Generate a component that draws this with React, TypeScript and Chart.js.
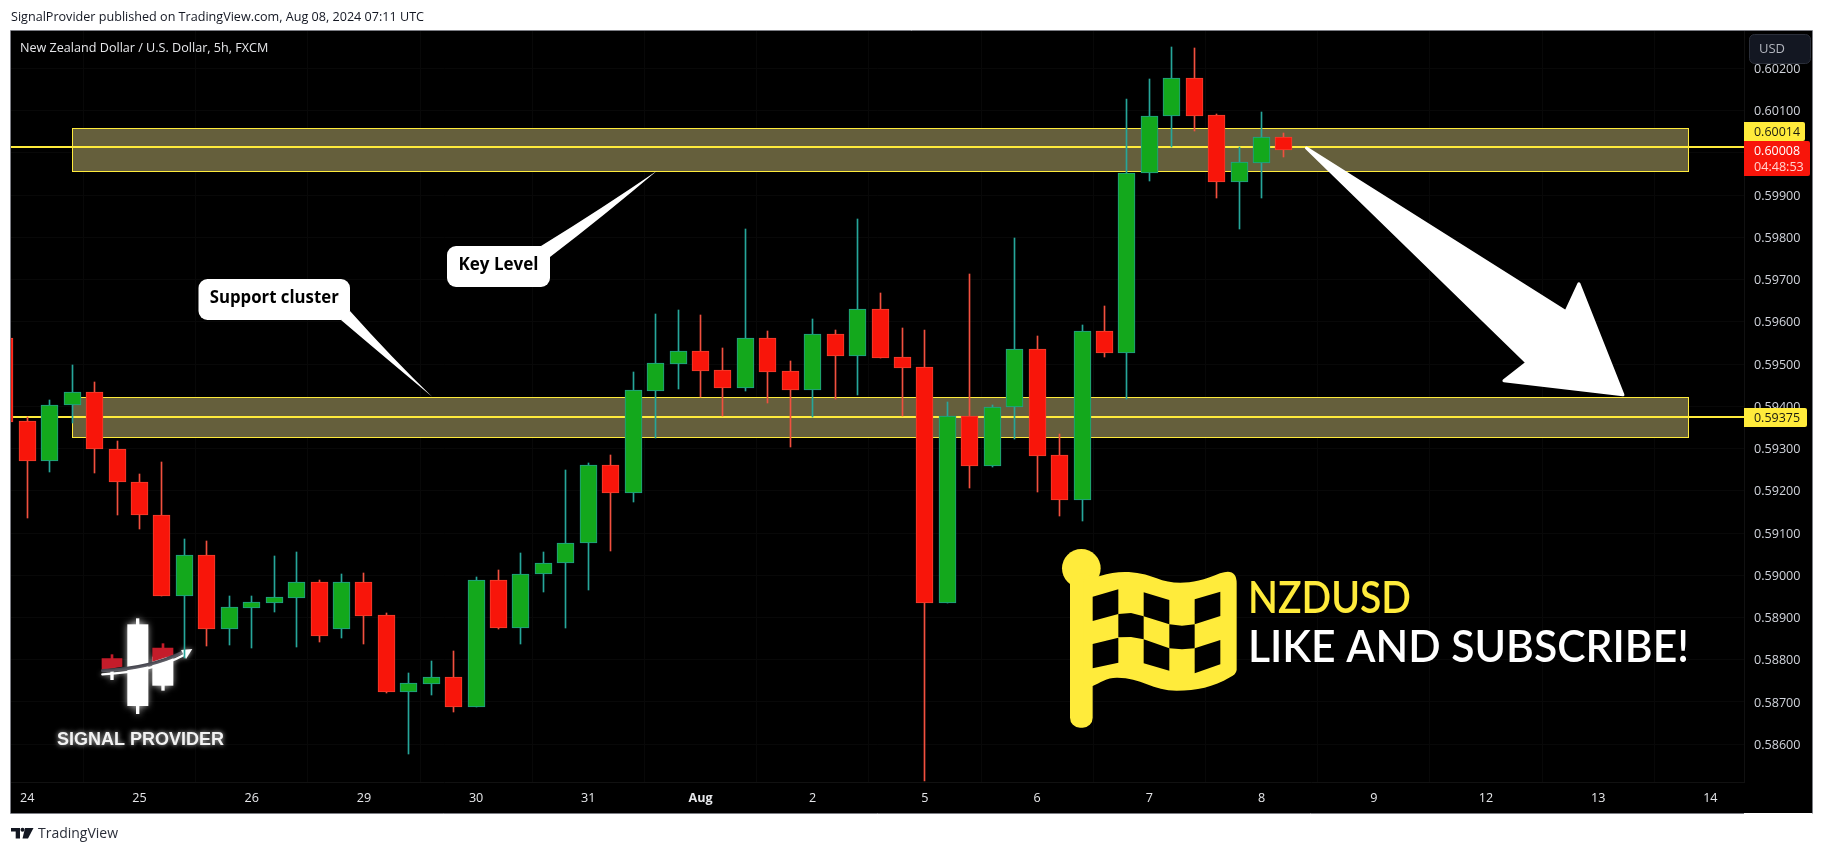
import React, { useEffect, useRef } from "react";
import { Chart, registerables } from "chart.js";

Chart.register(...registerables);

// Candles, from the partly hidden one at the left edge (index -1) onward
const opens = [0.59561,0.593644,0.592713,0.594023,0.594331,0.592981,0.5922,0.591419,0.589501,0.590471,0.588719,0.589232,0.589351,0.589469,0.589832,0.588719,0.589832,0.589051,0.587243,0.587433,0.587583,0.586888,0.589879,0.588759,0.590022,0.590298,0.590756,0.592603,0.591955,0.59437,0.595009,0.595302,0.594852,0.594441,0.595609,0.594828,0.594394,0.595704,0.595199,0.596296,0.59516,0.594923,0.589335,0.593762,0.592594,0.593976,0.595349,0.592839,0.591789,0.595775,0.59527,0.599517,0.600867,0.601767,0.600891,0.59932,0.59977,0.60037];
const highs = [0.596,0.59374,0.594149,0.594978,0.594568,0.593171,0.59239,0.592674,0.59085,0.590803,0.589501,0.589501,0.590456,0.590542,0.58988,0.59003,0.590045,0.589106,0.587685,0.587969,0.588206,0.58995,0.590124,0.590519,0.590542,0.592484,0.592658,0.592839,0.594804,0.596186,0.59628,0.596162,0.595381,0.598198,0.595783,0.595065,0.596059,0.595799,0.598435,0.596675,0.595846,0.595799,0.594102,0.597133,0.594031,0.597985,0.595665,0.593336,0.595925,0.596375,0.601277,0.601751,0.602509,0.602485,0.600922,0.600141,0.60097,0.600472];
const lows = [0.5933,0.591363,0.592453,0.593597,0.592413,0.591426,0.591103,0.589501,0.588033,0.588325,0.588348,0.588277,0.58913,0.588301,0.588427,0.588514,0.588372,0.587212,0.585775,0.587164,0.586762,0.586888,0.588727,0.58838,0.589603,0.588751,0.589651,0.590582,0.591742,0.593249,0.59441,0.59422,0.59377,0.59437,0.594078,0.593036,0.593747,0.594181,0.594268,0.595152,0.59377,0.58512,0.589335,0.592065,0.592571,0.593234,0.591971,0.59141,0.591284,0.595175,0.594181,0.599336,0.600141,0.600528,0.598941,0.598199,0.598941,0.599912];
const closes = [0.59364,0.592713,0.594023,0.594331,0.592981,0.5922,0.591419,0.589501,0.590471,0.588719,0.58924,0.589359,0.589477,0.589832,0.588569,0.589832,0.589043,0.587243,0.587441,0.587583,0.586888,0.589879,0.588759,0.590022,0.590298,0.590756,0.592603,0.591955,0.594378,0.595017,0.595302,0.594844,0.594441,0.595609,0.59482,0.594394,0.595704,0.595199,0.596296,0.595152,0.594915,0.589335,0.593762,0.592594,0.593976,0.595349,0.592831,0.591789,0.595775,0.59527,0.599517,0.600867,0.601767,0.600883,0.59932,0.599778,0.60037,0.60008];

const dayLabels = ["24","25","26","29","30","31","Aug","2","5","6","7","8","9","12","13","14"];
const priceTicks = [0.586,0.587,0.588,0.589,0.59,0.591,0.592,0.593,0.594,0.595,0.596,0.597,0.598,0.599,0.6,0.601,0.602];
const levelPrices = [0.60014, 0.59375];
const zoneTops = [0.600583, 0.594228];
const zoneBottoms = [0.59958, 0.593265];
const zoneStartIndex = 2;
const zoneEndIndex = 74;
const lastPrice = "0.60008";
const countdown = "04:48:53";

const YELLOW = "#ffeb3b";
const GREEN_FILL = "#13a81c";
const GREEN_EDGE = "#22a08e";
const RED_FILL = "#f8150a";
const RED_EDGE = "#f2402f";
const TEXT_FONT = '"Open Sans", sans-serif';

const isUp = (i: number) => closes[i] >= opens[i];

function poly(ctx: CanvasRenderingContext2D, pts: number[][]) {
  ctx.beginPath();
  pts.forEach((p, i) => (i ? ctx.lineTo(p[0], p[1]) : ctx.moveTo(p[0], p[1])));
  ctx.closePath();
  ctx.fill();
}

function drawLogo(ctx: CanvasRenderingContext2D) {
  ctx.save();
  ctx.translate(50, 600);
  ctx.scale(1 / 3, 1 / 3);
  ctx.shadowColor = "rgba(255,255,255,0.75)";
  ctx.shadowBlur = 7;
  ctx.fillStyle = "#ffffff";
  ctx.fillRect(258, 55, 10, 287);
  ctx.fillRect(232, 73, 63, 245);
  ctx.fillRect(334, 240, 10, 32);
  ctx.fillRect(307, 170, 63, 87);
  ctx.fillRect(181, 210, 10, 30);
  ctx.shadowBlur = 0;
  ctx.fillStyle = "#c41c2a";
  ctx.fillRect(182, 163, 8, 20);
  poly(ctx, [[155, 175], [217, 175], [217, 200], [155, 210]]);
  ctx.fillRect(335, 130, 8, 20);
  poly(ctx, [[307, 143], [370, 143], [370, 165], [307, 185]]);
  ctx.lineCap = "round";
  ctx.strokeStyle = "#3c3c46";
  ctx.lineWidth = 10;
  ctx.beginPath();
  ctx.moveTo(158, 212);
  ctx.quadraticCurveTo(300, 205, 395, 158);
  ctx.stroke();
  ctx.shadowColor = "rgba(255,255,255,0.7)";
  ctx.shadowBlur = 5;
  ctx.strokeStyle = "#ffffff";
  ctx.lineWidth = 7;
  ctx.beginPath();
  ctx.moveTo(157, 223);
  ctx.quadraticCurveTo(310, 215, 402, 165);
  ctx.stroke();
  ctx.fillStyle = "#ffffff";
  poly(ctx, [[427, 147], [393, 150], [408, 177]]);
  ctx.restore();
  ctx.save();
  ctx.shadowColor = "rgba(255,255,255,0.8)";
  ctx.shadowBlur = 5;
  ctx.fillStyle = "#f2f2f2";
  ctx.font = 'bold 18.5px "Liberation Sans", sans-serif';
  ctx.textAlign = "left";
  ctx.textBaseline = "alphabetic";
  ctx.fillText("SIGNAL PROVIDER", 57, 745, 167);
  ctx.restore();
}

function drawFlag(ctx: CanvasRenderingContext2D) {
  ctx.save();
  ctx.translate(1050, 540);
  ctx.scale(1 / 3, 1 / 3);
  ctx.fillStyle = YELLOW;
  ctx.beginPath();
  ctx.arc(94, 85, 58, 0, Math.PI * 2);
  ctx.fill();
  ctx.beginPath();
  ctx.roundRect(60, 100, 68, 463, 30);
  ctx.fill();
  ctx.beginPath();
  ctx.moveTo(100, 120);
  ctx.lineTo(150, 108);
  ctx.bezierCurveTo(210, 88, 270, 95, 320, 115);
  ctx.bezierCurveTo(370, 135, 430, 135, 510, 100);
  ctx.quadraticCurveTo(560, 82, 560, 130);
  ctx.lineTo(560, 390);
  ctx.quadraticCurveTo(558, 404, 540, 412);
  ctx.bezierCurveTo(490, 442, 440, 452, 380, 452);
  ctx.bezierCurveTo(310, 452, 270, 412, 200, 413);
  ctx.bezierCurveTo(170, 413, 150, 428, 128, 438);
  ctx.lineTo(100, 438);
  ctx.closePath();
  ctx.fill();
  ctx.fillStyle = "#000000";
  [
    [[128, 170], [205, 148], [205, 222], [128, 243]],
    [[281, 157], [358, 180], [358, 253], [281, 229]],
    [[434, 178], [511, 155], [511, 228], [434, 253]],
    [[205, 222], [243, 219], [281, 229], [281, 298], [243, 291], [205, 292]],
    [[358, 253], [396, 257], [434, 253], [434, 325], [396, 328], [358, 325]],
    [[128, 312], [205, 293], [205, 368], [128, 385]],
    [[281, 298], [358, 325], [358, 392], [281, 370]],
    [[434, 325], [511, 300], [511, 373], [434, 400]],
  ].forEach((c) => poly(ctx, c));
  ctx.restore();
}

function callout(
  ctx: CanvasRenderingContext2D,
  chart: any,
  text: string,
  index: number,
  price: number,
  box: number[],
  tail: number[][],
  textWidth: number,
) {
  const tx = chart.scales.x.getPixelForValue(index);
  const ty = chart.scales.y.getPixelForValue(price);
  ctx.fillStyle = "#ffffff";
  ctx.beginPath();
  ctx.roundRect(box[0], box[1], box[2] - box[0], box[3] - box[1], 9);
  ctx.fill();
  ctx.beginPath();
  ctx.moveTo(tail[0][0], tail[0][1]);
  ctx.quadraticCurveTo(tail[1][0], tail[1][1], tx, ty);
  ctx.quadraticCurveTo(tail[2][0], tail[2][1], tail[3][0], tail[3][1]);
  ctx.closePath();
  ctx.fill();
  ctx.fillStyle = "#000000";
  ctx.font = `bold 17px ${TEXT_FONT}`;
  ctx.textAlign = "center";
  ctx.textBaseline = "middle";
  ctx.fillText(text, (box[0] + box[2]) / 2, (box[1] + box[3]) / 2 - 1, textWidth);
}

function priceTag(ctx: CanvasRenderingContext2D, x: number, y: number, w: number, h: number, fill: string) {
  ctx.fillStyle = fill;
  ctx.beginPath();
  ctx.roundRect(x, y, w, h, [0, 2, 2, 0]);
  ctx.fill();
}

const chartDecor = {
  id: "chartDecor",
  afterDatasetsUpdate(chart: any) {
    // crisp pixels like the original renderer
    chart.data.datasets.forEach((ds: any, di: number) => {
      const meta = chart.getDatasetMeta(di);
      meta.data.forEach((el: any) => {
        if (ds.type === "line") {
          el.y = Math.round(el.y);
        } else {
          el.x = Math.floor(el.x) + 0.5;
          el.y = Math.round(el.y);
          el.base = Math.round(el.base);
        }
      });
    });
  },
  beforeDraw(chart: any) {
    const ctx: CanvasRenderingContext2D = chart.ctx;
    ctx.save();
    ctx.fillStyle = "#ffffff";
    ctx.fillRect(0, 0, 1824, 853);
    ctx.fillStyle = "#000000";
    ctx.fillRect(11, 31, 1801, 782);
    ctx.strokeStyle = "#7d7e85";
    ctx.lineWidth = 1;
    ctx.beginPath();
    ctx.moveTo(10.5, 813.5);
    ctx.lineTo(10.5, 30.5);
    ctx.lineTo(1812.5, 30.5);
    ctx.lineTo(1812.5, 813.5);
    ctx.moveTo(10.5, 813.5);
    ctx.lineTo(1744, 813.5);
    ctx.stroke();
    ctx.fillStyle = "#131722";
    ctx.font = `12.6px ${TEXT_FONT}`;
    ctx.textAlign = "left";
    ctx.textBaseline = "middle";
    ctx.fillText("SignalProvider published on TradingView.com, Aug 08, 2024 07:11 UTC", 11, 17, 428);
    // TradingView mark
    ctx.fillRect(11, 828, 9, 3.5);
    ctx.fillRect(15.7, 828, 4.3, 10.5);
    ctx.beginPath();
    ctx.arc(22.5, 829.7, 2, 0, Math.PI * 2);
    ctx.fill();
    poly(ctx, [[25, 828], [33.5, 828], [28, 838.5], [22.5, 838.5]]);
    ctx.font = `15px ${TEXT_FONT}`;
    ctx.fillStyle = "#2a2e39";
    ctx.fillText("TradingView", 38, 834, 80);
    ctx.restore();
  },
  beforeDatasetsDraw(chart: any) {
    const ctx: CanvasRenderingContext2D = chart.ctx;
    const { x, y } = chart.scales;
    ctx.save();
    const { left, right, top, bottom } = chart.chartArea;
    ctx.beginPath();
    ctx.rect(left, top, right - left, bottom - top);
    ctx.clip();
    zoneTops.forEach((t, i) => {
      const x0 = Math.round(x.getPixelForValue(zoneStartIndex)) + 0.5;
      const x1 = Math.round(x.getPixelForValue(zoneEndIndex)) + 0.5;
      const y0 = Math.round(y.getPixelForValue(t)) + 0.5;
      const y1 = Math.round(y.getPixelForValue(zoneBottoms[i])) + 0.5;
      ctx.fillStyle = "#655f3c";
      ctx.fillRect(x0, y0, x1 - x0, y1 - y0);
      ctx.strokeStyle = YELLOW;
      ctx.lineWidth = 1;
      ctx.strokeRect(x0, y0, x1 - x0, y1 - y0);
    });
    drawLogo(ctx);
    ctx.restore();
  },
  afterDraw(chart: any) {
    const ctx: CanvasRenderingContext2D = chart.ctx;
    const { x, y } = chart.scales;
    ctx.save();

    // legend line of the symbol
    ctx.fillStyle = "#e6e7ea";
    ctx.font = `12.6px ${TEXT_FONT}`;
    ctx.textAlign = "left";
    ctx.textBaseline = "middle";
    ctx.fillText("New Zealand Dollar / U.S. Dollar, 5h, FXCM", 20, 48, 264);

    // callouts
    callout(ctx, chart, "Key Level", 28.06, zoneBottoms[0], [447, 246, 550, 287],
      [[541, 246], [604, 207], [606, 214], [550, 257]], 81);
    callout(ctx, chart, "Support cluster", 18.04, zoneTops[1], [198.5, 279, 350, 320],
      [[350, 311], [392, 358], [388, 360], [341, 320]], 129);

    // big arrow from the last candle to the lower zone
    const tx = x.getPixelForValue(71.15);
    const ty = y.getPixelForValue(0.59425);
    const ax = x.getPixelForValue(57);
    const ay = y.getPixelForValue(levelPrices[0]);
    ctx.fillStyle = "#ffffff";
    ctx.strokeStyle = "#ffffff";
    ctx.lineJoin = "round";
    ctx.lineWidth = 3;
    ctx.beginPath();
    ctx.moveTo(ax, ay + 1);
    ctx.lineTo(tx - 58, ty - 84);
    ctx.lineTo(tx - 45, ty - 112);
    ctx.lineTo(tx - 1, ty - 1);
    ctx.lineTo(tx - 120, ty - 15);
    ctx.lineTo(tx - 97, ty - 33);
    ctx.closePath();
    ctx.fill();
    ctx.stroke();

    drawFlag(ctx);
    ctx.textAlign = "left";
    ctx.textBaseline = "alphabetic";
    ctx.fillStyle = YELLOW;
    ctx.font = `600 44px Lato, sans-serif`;
    ctx.fillText("NZDUSD", 1248, 613, 163);
    ctx.fillStyle = "#ffffff";
    ctx.fillText("LIKE AND SUBSCRIBE!", 1248, 662, 441);

    // USD button
    ctx.fillStyle = "#131722";
    ctx.strokeStyle = "#2a2e39";
    ctx.lineWidth = 1;
    ctx.beginPath();
    ctx.roundRect(1749.5, 34.5, 61, 29, 5);
    ctx.fill();
    ctx.stroke();
    ctx.fillStyle = "#b2b5be";
    ctx.font = `13px ${TEXT_FONT}`;
    ctx.textBaseline = "middle";
    ctx.fillText("USD", 1759, 49);

    // price tags
    const tagFont = `12.6px ${TEXT_FONT}`;
    ctx.font = tagFont;
    priceTag(ctx, 1744, 122, 61, 19, YELLOW);
    const ly = y.getPixelForValue(levelPrices[1]);
    priceTag(ctx, 1744, Math.round(ly) - 9, 63, 19, YELLOW);
    priceTag(ctx, 1744, 141, 66, 35, "#f8150a");
    ctx.fillStyle = "#1a1a10";
    ctx.fillText(levelPrices[0].toFixed(5), 1754, 132, 46);
    ctx.fillText(levelPrices[1].toFixed(5), 1754, Math.round(ly) + 1, 46);
    ctx.fillStyle = "#ffffff";
    ctx.fillText(lastPrice, 1754, 151, 46);
    ctx.fillStyle = "#ffd5d0";
    ctx.fillText(countdown, 1754, 167, 50);
    ctx.restore();
  },
};

export default function App() {
  const ref = useRef<HTMLCanvasElement>(null);
  useEffect(() => {
    const xMin = -0.726;
    const xMax = 76.5;
    const bodies = opens.map((o, i) => ({ x: i - 1, y: [o, closes[i]] }));
    const wicks = highs.map((h, i) => ({ x: i - 1, y: [lows[i], h] }));
    const chart = new Chart(ref.current!, {
      type: "bar",
      data: {
        datasets: [
          {
            type: "bar",
            label: "Body",
            data: bodies as any,
            order: 1,
            grouped: false,
            barThickness: 17,
            borderWidth: 1,
            borderSkipped: false,
            backgroundColor: opens.map((_, i) => (isUp(i) ? GREEN_FILL : RED_FILL)),
            borderColor: opens.map((_, i) => (isUp(i) ? GREEN_EDGE : RED_EDGE)),
          },
          {
            type: "bar",
            label: "Wick",
            data: wicks as any,
            order: 2,
            grouped: false,
            barThickness: 1,
            borderWidth: 0,
            backgroundColor: opens.map((_, i) => (isUp(i) ? "#26a69a" : "#f2503f")),
          },
          ...levelPrices.map((p) => ({
            type: "line" as const,
            label: "Level " + p,
            data: [{ x: xMin, y: p }, { x: xMax, y: p }] as any,
            order: 3,
            borderColor: YELLOW,
            borderWidth: 2,
            pointRadius: 0,
          })),
        ],
      },
      options: {
        responsive: false,
        maintainAspectRatio: false,
        animation: false,
        events: [],
        layout: { padding: { left: 11, top: 31, right: 12, bottom: 40 } },
        plugins: { legend: { display: false }, tooltip: { enabled: false }, title: { display: false } },
        scales: {
          x: {
            type: "linear",
            min: xMin,
            max: xMax,
            offset: false,
            afterFit: (s: any) => { s.height = 31; },
            afterBuildTicks: (s: any) => { s.ticks = dayLabels.map((_, i) => ({ value: i * 5 })); },
            grid: { color: "#080808", drawTicks: false },
            border: { color: "#111111" },
            ticks: {
              autoSkip: false,
              maxRotation: 0,
              padding: 9,
              color: "#e6e7ea",
              font: (c: any) => ({
                family: "Open Sans",
                size: 12.6,
                weight: dayLabels[Math.round(c.tick?.value / 5)] === "Aug" ? "bold" : "normal",
              }),
              callback: (v: any) => dayLabels[Math.round(Number(v) / 5)],
            },
          },
          y: {
            type: "linear",
            position: "right",
            min: 0.585104,
            max: 0.602887,
            afterFit: (s: any) => { s.width = 68; },
            afterBuildTicks: (s: any) => { s.ticks = priceTicks.map((value) => ({ value })); },
            grid: { color: "#080808", drawTicks: false },
            border: { color: "#111111" },
            ticks: {
              autoSkip: false,
              padding: 10,
              labelOffset: 1,
              color: "#d1d4dc",
              font: { family: "Open Sans", size: 12.6 },
              callback: (v: any) => Number(v).toFixed(5),
            },
          },
        },
      },
      plugins: [chartDecor],
    } as any);
    return () => chart.destroy();
  }, []);
  return (
    <div style={{ position: "absolute", left: 0, top: 0, width: 1824, height: 853 }}>
      <canvas ref={ref} width={1824} height={853} style={{ display: "block" }} />
    </div>
  );
}
